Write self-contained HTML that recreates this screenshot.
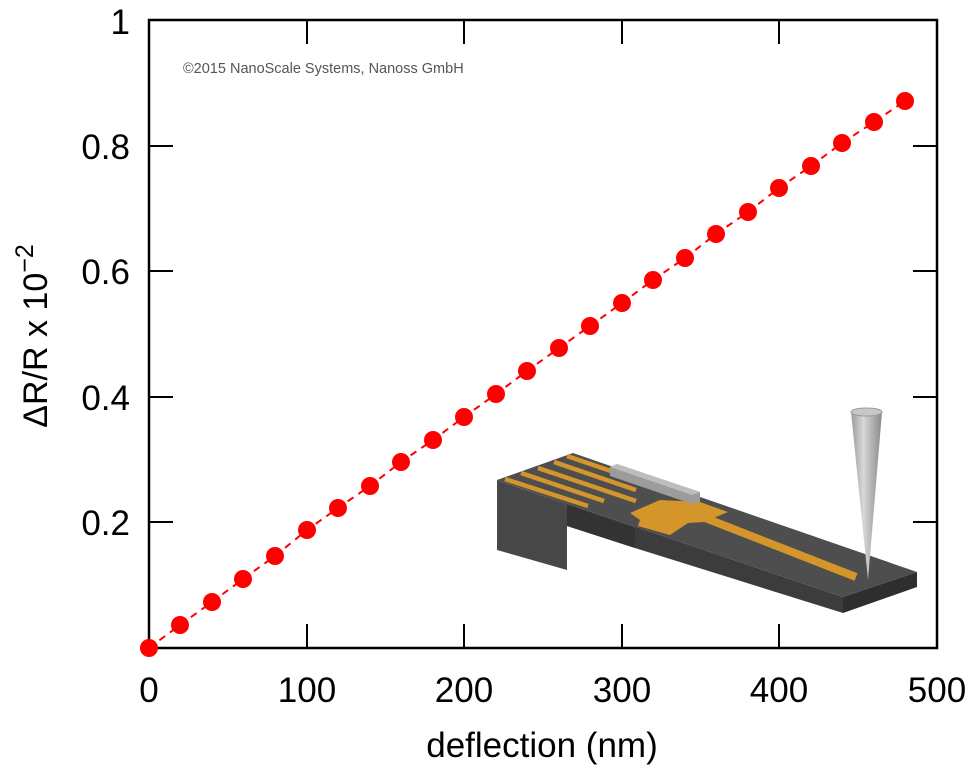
<!DOCTYPE html>
<html><head><meta charset="utf-8"><style>
html,body{margin:0;padding:0;background:#fff;}
svg{display:block;font-family:"Liberation Sans",sans-serif;}
</style></head><body>
<svg width="974" height="776" viewBox="0 0 974 776" xmlns="http://www.w3.org/2000/svg">
<defs>
<linearGradient id="cone" x1="0" x2="1" y1="0" y2="0">
<stop offset="0" stop-color="#9a9a9a"/><stop offset="0.4" stop-color="#d8d8d8"/><stop offset="1" stop-color="#888"/>
</linearGradient>
</defs>
<g>
<polygon points="497,480 567,505 567,570 497,550" fill="#474747"/>
<polygon points="497,480 843,597 843,613 635,548 567,526 567,505" fill="#3c3c3c"/>
<polygon points="567,505 635,528 635,548 567,526" fill="#333"/>
<polygon points="843,597 917,572 917,587 843,613" fill="#2e2e2e"/>
<polygon points="497,480 573,453 917,572 843,597" fill="#4e4e4e"/>
<g stroke="#d4962a" stroke-width="4.5" stroke-linecap="butt">
<line x1="505" y1="479" x2="588" y2="506"/>
<line x1="521" y1="473" x2="604" y2="501"/>
<line x1="538" y1="468" x2="636" y2="501"/>
<line x1="554" y1="462" x2="636" y2="490"/>
<line x1="567" y1="456" x2="634" y2="479"/>
</g>
<polygon points="630,513 660,500 700,502 728,512 704,522 688,523 670,535 638,526 640,520" fill="#d4962a"/>
<line x1="700" y1="516" x2="856" y2="577" stroke="#d4962a" stroke-width="8"/>
<polygon points="610,467 617,464 700,492 700,502 692,504 610,476" fill="#9c9c9c"/>
<polygon points="610,467 617,464 700,492 692,495" fill="#bdbdbd"/>
<polygon points="851,412 882,412 868,580" fill="url(#cone)"/>
<ellipse cx="866.5" cy="412" rx="15.5" ry="4" fill="#c8c8c8" stroke="#999" stroke-width="1"/>
</g>
<rect x="149" y="20" width="788" height="628" fill="none" stroke="#000" stroke-width="2.5"/>
<g stroke="#000" stroke-width="2">
<line x1="307" y1="648" x2="307" y2="624"/><line x1="464" y1="648" x2="464" y2="624"/>
<line x1="622" y1="648" x2="622" y2="624"/><line x1="779" y1="648" x2="779" y2="624"/>
<line x1="307" y1="20" x2="307" y2="44"/><line x1="464" y1="20" x2="464" y2="44"/>
<line x1="622" y1="20" x2="622" y2="44"/><line x1="779" y1="20" x2="779" y2="44"/>
<line x1="149" y1="522" x2="173" y2="522"/><line x1="149" y1="397" x2="173" y2="397"/>
<line x1="149" y1="271" x2="173" y2="271"/><line x1="149" y1="146" x2="173" y2="146"/>
<line x1="937" y1="522" x2="913" y2="522"/><line x1="937" y1="397" x2="913" y2="397"/>
<line x1="937" y1="271" x2="913" y2="271"/><line x1="937" y1="146" x2="913" y2="146"/>
</g>
<g font-size="35" fill="#000" text-anchor="middle">
<text x="149" y="702">0</text><text x="307" y="702">100</text><text x="464" y="702">200</text>
<text x="622" y="702">300</text><text x="779" y="702">400</text><text x="937" y="702">500</text>
</g>
<g font-size="35" fill="#000" text-anchor="end">
<text x="130" y="34">1</text><text x="130" y="159">0.8</text><text x="130" y="284">0.6</text>
<text x="130" y="410">0.4</text><text x="130" y="535">0.2</text>
</g>
<text x="542" y="757" font-size="35" text-anchor="middle">deflection (nm)</text>
<text transform="translate(47,336) rotate(-90)" font-size="34" text-anchor="middle">ΔR/R x 10<tspan dy="-14" font-size="25">−2</tspan></text>
<text x="183" y="73" font-size="14.5" fill="#555">©2015 NanoScale Systems, Nanoss GmbH</text>
<polyline fill="none" stroke="#f00" stroke-width="2" stroke-dasharray="7,6" points="149,648 180,625 212,602 243,579 275,556 307,530 338,508 370,486 401,462 433,440 464,417 496,394 527,371 559,348 590,326 622,303 653,280 685,258 716,234 748,212 779,188 811,166 842,143 874,122 905,101"/>
<g fill="#f00">
<circle cx="149" cy="648" r="9"/><circle cx="180" cy="625" r="9"/><circle cx="212" cy="602" r="9"/><circle cx="243" cy="579" r="9"/><circle cx="275" cy="556" r="9"/><circle cx="307" cy="530" r="9"/><circle cx="338" cy="508" r="9"/><circle cx="370" cy="486" r="9"/><circle cx="401" cy="462" r="9"/><circle cx="433" cy="440" r="9"/><circle cx="464" cy="417" r="9"/><circle cx="496" cy="394" r="9"/><circle cx="527" cy="371" r="9"/><circle cx="559" cy="348" r="9"/><circle cx="590" cy="326" r="9"/><circle cx="622" cy="303" r="9"/><circle cx="653" cy="280" r="9"/><circle cx="685" cy="258" r="9"/><circle cx="716" cy="234" r="9"/><circle cx="748" cy="212" r="9"/><circle cx="779" cy="188" r="9"/><circle cx="811" cy="166" r="9"/><circle cx="842" cy="143" r="9"/><circle cx="874" cy="122" r="9"/><circle cx="905" cy="101" r="9"/>
</g>
</svg>
</body></html>
